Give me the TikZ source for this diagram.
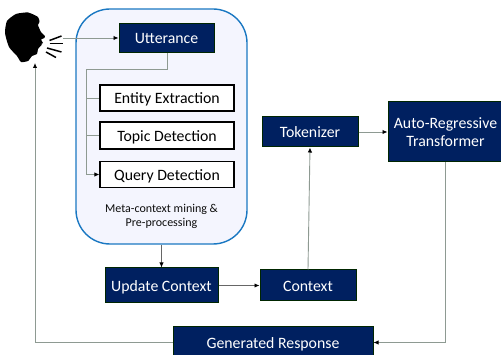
\documentclass[tikz,border=0pt]{standalone}
\usepackage{fontspec}
\setmainfont{Carlito}
\usetikzlibrary{arrows.meta,calc}
\definecolor{navy}{HTML}{002060}
\definecolor{wire}{HTML}{8E9A92}
\definecolor{panelblue}{HTML}{1A78C2}
\definecolor{panelfill}{HTML}{F4F5FE}
\tikzset{
  x=1pt,y=-1pt,
  darkbox/.style={draw=black!85!green,line width=1pt,fill=navy,text=white,font=\fontsize{15.8}{18}\selectfont,align=center,inner sep=0pt},
  oneline/.style={text height=15pt,text depth=3pt},
  lightbox/.style={draw=black,line width=1.1pt,fill=white,text=black,font=\fontsize{15.8}{18}\selectfont,inner sep=0pt,oneline},
  wireline/.style={draw=wire,line width=0.9pt},
  arrowline/.style={wireline,-{Latex[length=5pt,width=4.5pt,color=black]}},
  mouth/.style={draw=black,line width=1.5pt}
}
\begin{document}
\begin{tikzpicture}
\useasboundingbox (0,0) rectangle (501,355);
\clip (0,0) rectangle (501,355);
% speaker
\fill[black] plot[smooth cycle,tension=0.35] coordinates {
 (16,14) (28,12.5) (38,17) (39.5,22) (38,25) (41,32) (45,36) (44.5,38) (41,39.5) (43,43) (40,44.5) (42,44.5) (38,49) (37,54) (32,56) (28,61) (21,62) (17,56) (9,47) (5,33) (7,21)};
\draw[mouth] (49.5,40.5) -- (61.5,36);
\draw[mouth] (49.5,43.5) -- (62.5,43.5);
\draw[mouth] (47,48) -- (61.5,52);
\draw[mouth] (46,52) -- (56,57.5);
\coordinate (voice) at (63,38);
\coordinate (ear) at (35,63);
% panel
\node[draw=panelblue,line width=1.4pt,fill=panelfill,rounded corners=34pt,minimum width=171pt,minimum height=235pt,inner sep=0pt] (panel) at (161.5,126.5) {};
\node[darkbox,oneline,minimum width=95pt,minimum height=29pt] (utt) at (166.5,38) {Utterance};
\node[lightbox,minimum width=134pt,minimum height=26pt] (entity) at (167,98) {Entity Extraction};
\node[lightbox,minimum width=134pt,minimum height=27pt] (topic) at (167,135.5) {Topic Detection};
\node[lightbox,minimum width=134pt,minimum height=26pt] (query) at (167,174.5) {Query Detection};
\node[font=\fontsize{12}{14.5}\selectfont,align=center,text=black!95] (meta) at (161.5,216.5) {Meta-context mining \&\\Pre-processing};
\node[darkbox,oneline,minimum width=113pt,minimum height=35pt] (update) at (161.5,285.5) {Update Context};
\node[darkbox,oneline,minimum width=96pt,minimum height=31pt] (context) at (308,285.5) {Context};
\node[darkbox,oneline,minimum width=96pt,minimum height=30pt] (token) at (310,132) {Tokenizer};
\node[darkbox,minimum width=115pt,minimum height=60pt] (art) at (445.5,132) {Auto-Regressive\\Transformer};
\node[darkbox,oneline,minimum width=200pt,minimum height=31pt] (gen) at (273,342.5) {Generated Response};
% connectors
\draw[arrowline] (voice) -- (utt.west |- voice);
\coordinate (trunk) at (86,69);
\draw[wireline] (utt.south) ++(0.5,0) |- (trunk) -- (trunk |- entity.west) -- (entity.west);
\draw[wireline] (trunk |- topic.west) -- (topic.west);
\draw[arrowline] (trunk |- entity.west) -- (trunk |- query.west) -- (query.west);
\draw[arrowline,draw=black!60] (panel.south) -- (update.north);
\draw[arrowline,draw=black!60] (update.east) -- (context.west);
\draw[arrowline] (context.north) -- (token.south);
\draw[arrowline] (token.east) -- (art.west);
\draw[arrowline] (art.south) |- (gen.east);
\draw[arrowline] (gen.west) -| (ear);
\end{tikzpicture}
\end{document}
